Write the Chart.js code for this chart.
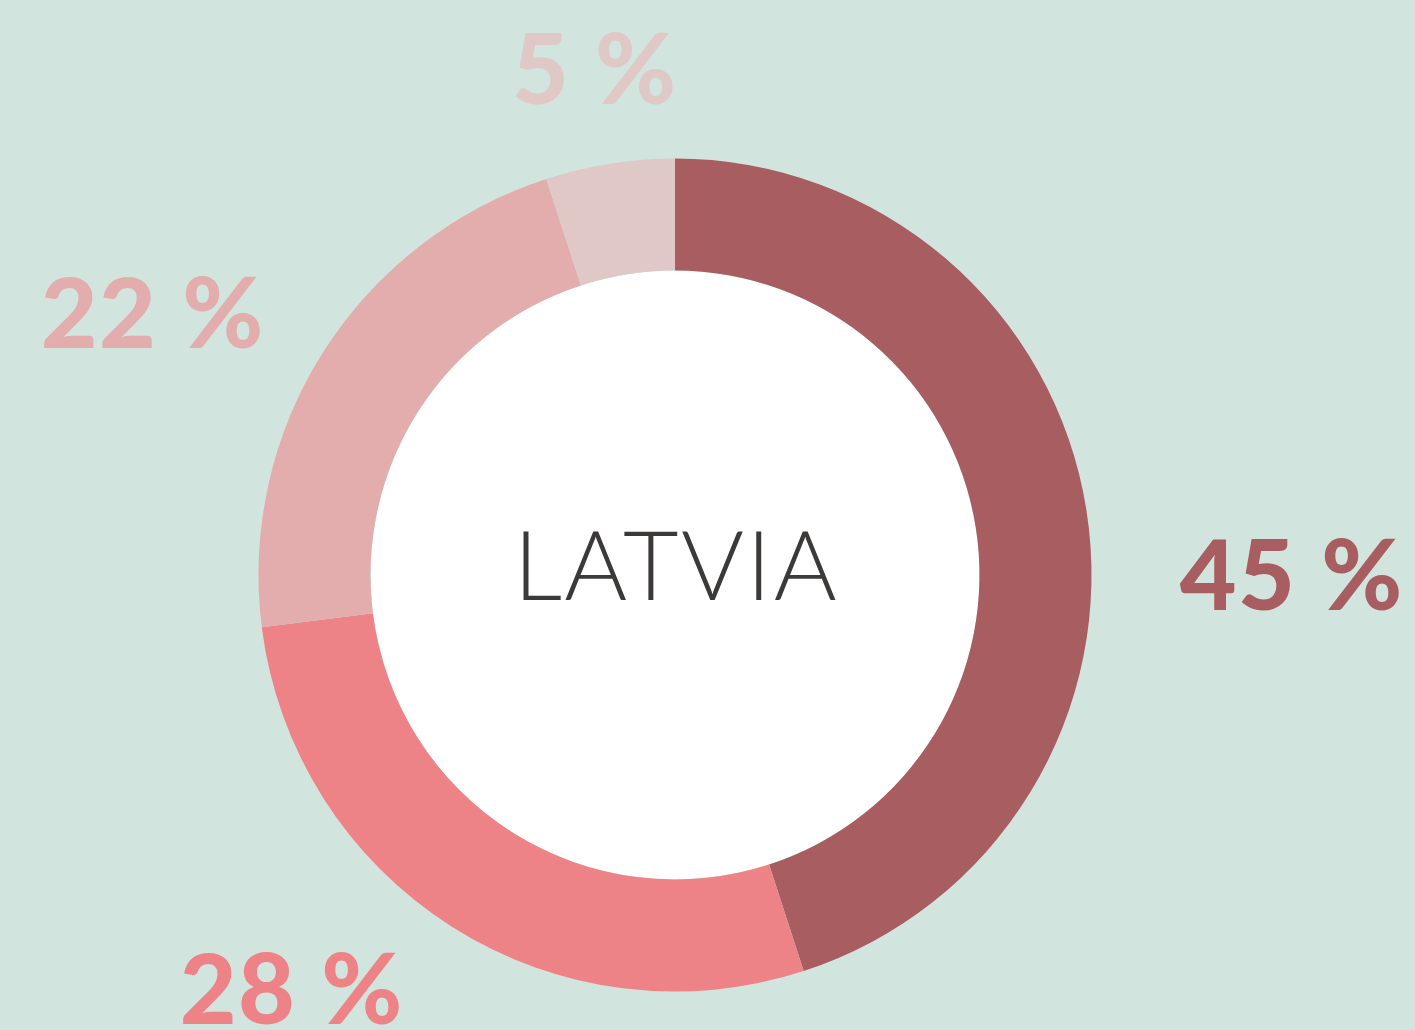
<!DOCTYPE html>
<html>
<head>
<meta charset="utf-8">
<script src="https://cdn.jsdelivr.net/npm/chart.js@4"></script>
<style>
html,body{margin:0;padding:0;background:#D2E4DE;}
#wrap{width:1415px;height:1030px;position:relative;}
</style>
</head>
<body>
<div id="wrap"><canvas id="c" width="1415" height="1030"></canvas></div>
<script>
const categories = ["A", "B", "C", "D"];
const values = [45, 28, 22, 5];
const valueLabels = ["45 %", "28 %", "22 %", "5 %"];
const centerTitle = "LATVIA";
const colors = ["#A85E60", "#EE8387", "#E3ADAD", "#E0C8C7"];
// label centre offsets relative to doughnut centre (layout only)
const labelOffsets = [[616, 0], [-384, 414], [-523, -262], [-81, -506]];

const centerPlugin = {
  id: 'centerPlugin',
  beforeDatasetsDraw(chart) {
    const arc = chart.getDatasetMeta(0).data[0];
    if (!arc) return;
    const ctx = chart.ctx;
    ctx.save();
    ctx.beginPath();
    ctx.arc(arc.x, arc.y, arc.innerRadius, 0, Math.PI * 2);
    ctx.fillStyle = '#ffffff';
    ctx.fill();
    ctx.restore();
  },
  afterDatasetsDraw(chart) {
    const meta = chart.getDatasetMeta(0);
    const arc = meta.data[0];
    if (!arc) return;
    const ctx = chart.ctx;
    ctx.save();
    ctx.fillStyle = '#3c3a39';
    ctx.font = '300 96px Lato';
    ctx.textAlign = 'center';
    ctx.textBaseline = 'alphabetic';
    ctx.letterSpacing = '2.4px';
    ctx.fillText(centerTitle, arc.x + 1.2, arc.y + 25);
    ctx.font = '900 98px Lato';
    ctx.letterSpacing = '1.5px';
    meta.data.forEach((a, i) => {
      ctx.fillStyle = colors[i];
      const off = labelOffsets[i];
      ctx.fillText(valueLabels[i], arc.x + off[0] + 0.75, arc.y + off[1] + 35);
    });
    ctx.restore();
  }
};

function draw() {
  new Chart(document.getElementById('c'), {
    type: 'doughnut',
    data: {
      labels: categories,
      datasets: [{
        data: values,
        backgroundColor: colors,
        borderWidth: 0,
        hoverOffset: 0
      }]
    },
    options: {
      responsive: false,
      animation: false,
      cutout: '73.1%',
      layout: { padding: { top: 158.5, bottom: 38.5, left: 258.5, right: 323.5 } },
      plugins: { legend: { display: false }, tooltip: { enabled: false } }
    },
    plugins: [centerPlugin]
  });
}
Promise.all([
  document.fonts.load('300 96px Lato'),
  document.fonts.load('900 98px Lato')
]).then(draw, draw);
</script>
</body>
</html>
